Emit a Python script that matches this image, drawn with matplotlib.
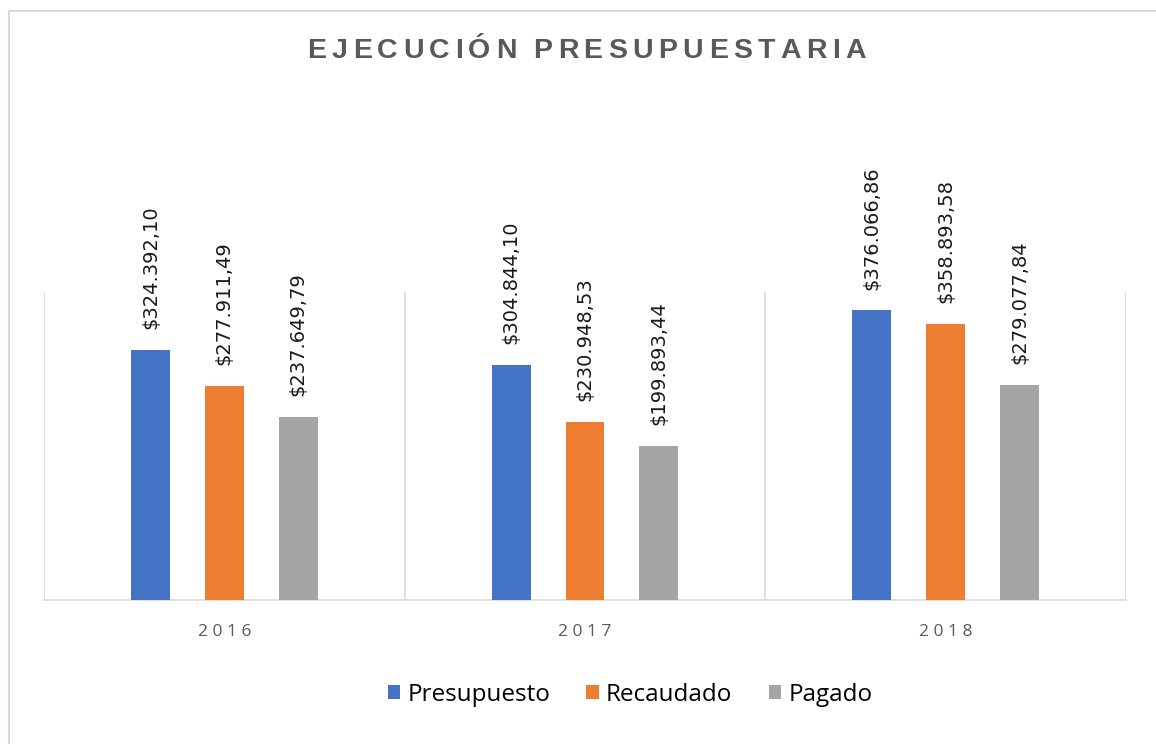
import numpy as np
from matplotlib import pyplot as plt
from matplotlib.lines import Line2D

# data
years = ['2016', '2017', '2018']
year_labels = ['2 0 1 6', '2 0 1 7', '2 0 1 8']
series_names = ['Presupuesto', 'Recaudado', 'Pagado']
presupuesto = [324392.10, 304844.10, 376066.86]
recaudado = [277911.49, 230948.53, 358893.58]
pagado = [237649.79, 199893.44, 279077.84]
title = 'EJECUCIÓN PRESUPUESTARIA'

series_colors = ['#4472C4', '#ED7D31', '#A5A5A5']
grid_color = '#D9D9D9'
text_gray = '#595959'

W, H = 1156, 744


def fmt_money(v):
    # 324392.10 -> $324.392,10
    s = f'{v:,.2f}'
    s = s.replace(',', 'X').replace('.', ',').replace('X', '.')
    return '$' + s


def spaced_text(fig, s, x_left, x_right, y, **kw):
    # place characters one by one so the string spans x_left..x_right (pixels)
    r = fig.canvas.get_renderer()
    widths = []
    for ch in s:
        t = fig.text(0, 0, ch if ch != ' ' else 'I', **kw)
        bb = t.get_window_extent(renderer=r)
        widths.append(bb.width * (0.8 if ch == ' ' else 1.0))
        t.remove()
    gap = (x_right - x_left - sum(widths)) / (len(s) - 1)
    xp = x_left
    for ch, w in zip(s, widths):
        if ch != ' ':
            fig.text(xp / W, 1 - y / H, ch, ha='left', va='baseline', **kw)
        xp += w + gap


plt.rcParams['font.family'] = ['Open Sans', 'DejaVu Sans']

fig = plt.figure(figsize=(W / 100, H / 100), dpi=100)
ax = fig.add_axes([44 / W, 1 - 600 / H, (1126 - 44) / W, 308 / H])

x = np.arange(len(years))
bar_w = 0.108
step = 0.205
all_series = [presupuesto, recaudado, pagado]

for i, (vals, name, col) in enumerate(zip(all_series, series_names, series_colors)):
    pos = x + (i - 1) * step
    bars = ax.bar(pos, vals, width=bar_w, color=col, label=name, zorder=3)
    for b, v in zip(bars, vals):
        ax.annotate(fmt_money(v), (b.get_x() + b.get_width() / 2, b.get_height()),
                    xytext=(0, 15), textcoords='offset points',
                    rotation=90, ha='center', va='bottom',
                    fontsize=14, color='#1a1a1a', family=['DejaVu Sans'],
                    annotation_clip=False)

ax.set_xlim(-0.5, 2.5)
ax.set_ylim(0, 400000)

# category separators
for xv in [-0.5, 0.5, 1.5, 2.5]:
    ax.axvline(xv, color=grid_color, linewidth=1.2, zorder=1)

for s in ['top', 'left', 'right']:
    ax.spines[s].set_visible(False)
ax.spines['bottom'].set_color(grid_color)
ax.spines['bottom'].set_linewidth(1.2)
ax.set_yticks([])
ax.set_xticks(x)
ax.set_xticklabels(year_labels)
ax.tick_params(axis='x', length=0, pad=17, labelsize=12.5, labelcolor=text_gray)

# title with letter spacing
spaced_text(fig, title, 307, 866, 58.5, fontsize=20.5, fontweight='bold', color=text_gray,
            family=['Liberation Sans', 'DejaVu Sans'])

# legend
fig.legend(loc='center', bbox_to_anchor=(630 / W, 1 - 695 / H), ncol=3,
           frameon=False, fontsize=17.5, handlelength=0.5, handleheight=0.5,
           handletextpad=0.3, columnspacing=1.5)

# outer frame (left and top edges)
fig.add_artist(Line2D([8.5 / W, 8.5 / W], [0, 1 - 10.5 / H], color=grid_color, linewidth=1.5))
fig.add_artist(Line2D([8.5 / W, 1], [1 - 10.5 / H, 1 - 10.5 / H], color=grid_color, linewidth=1.5))

fig.savefig('out.png', dpi=100)
